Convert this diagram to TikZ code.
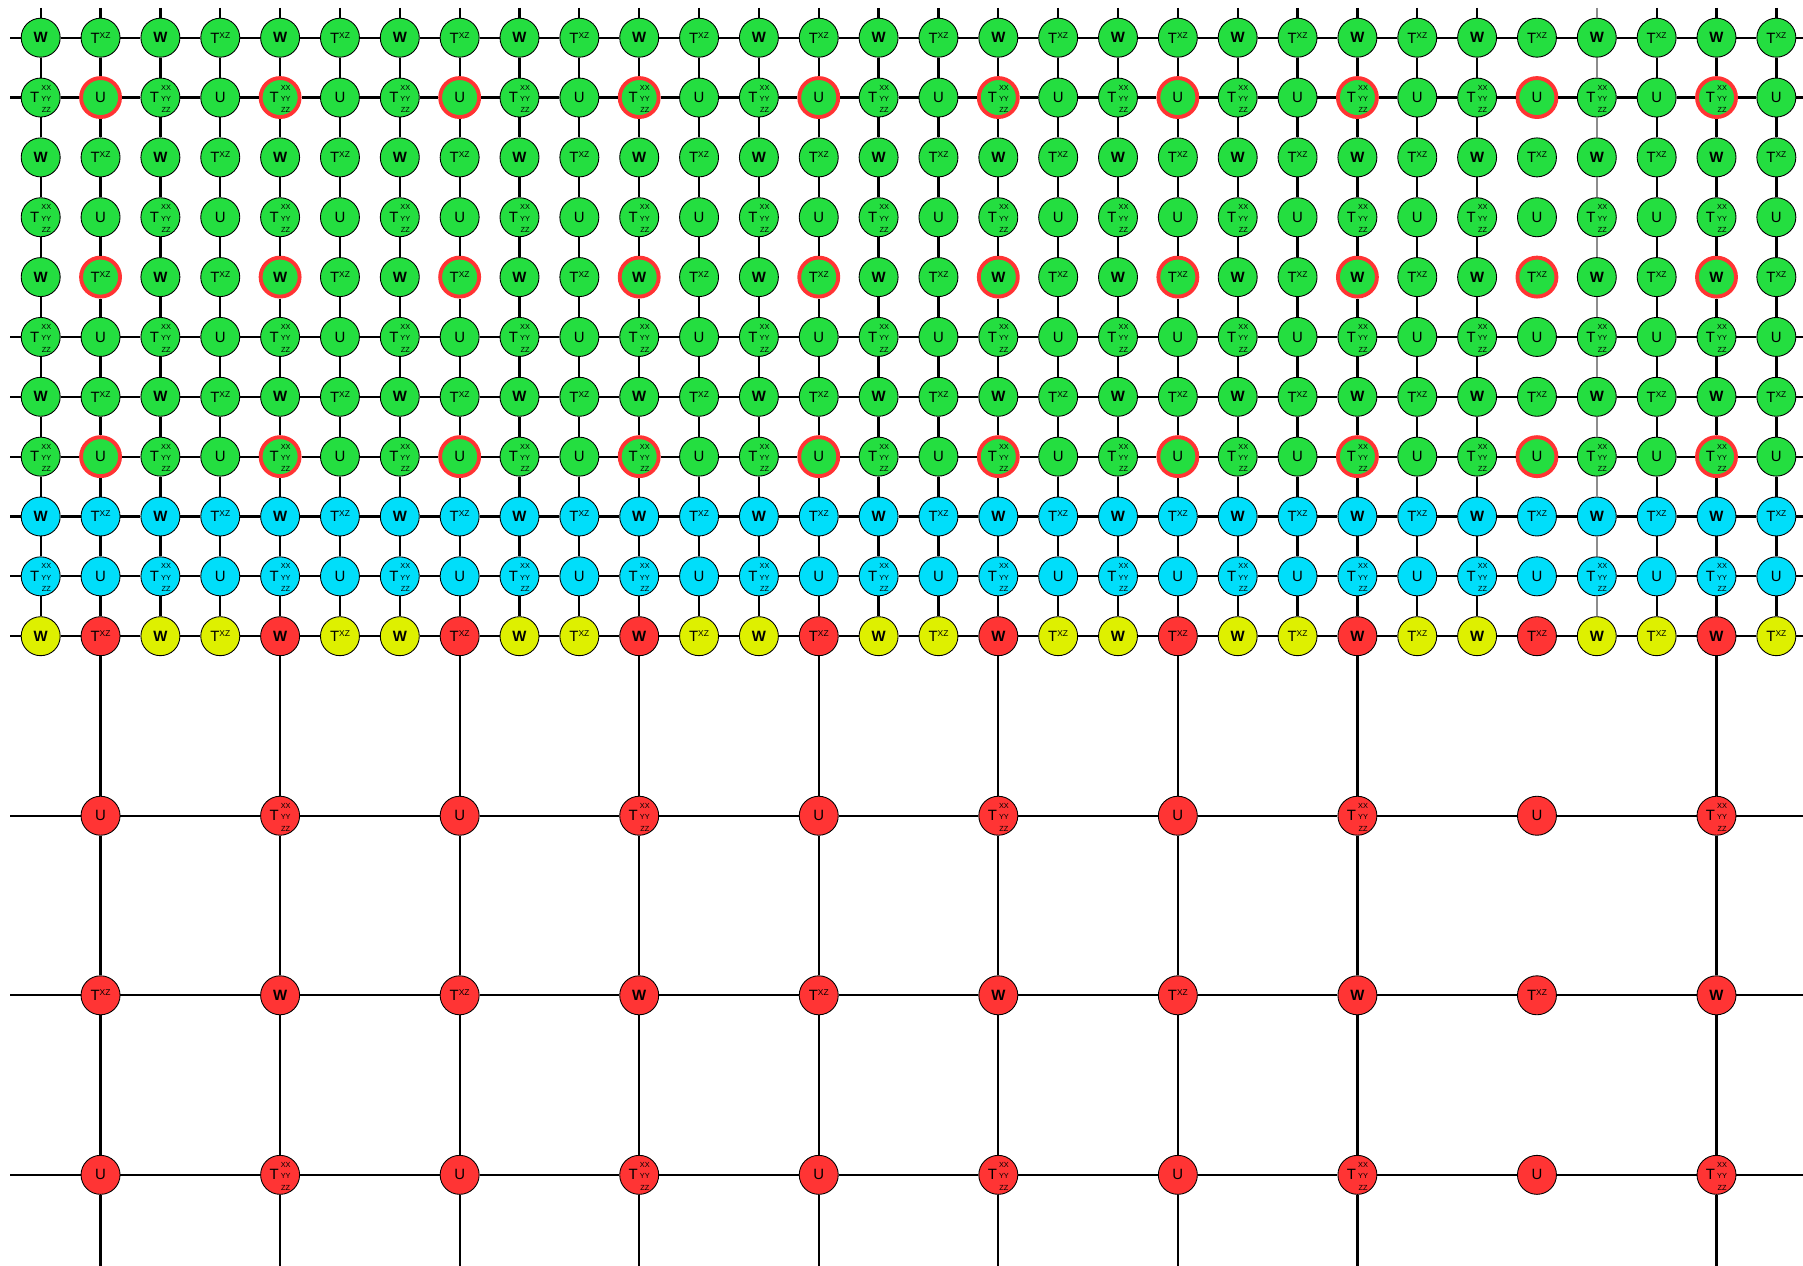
\documentclass[tikz,border=0pt]{standalone}
\usepackage{fontspec}
\setmainfont{Liberation Sans}
\usepackage{xcolor}
\usepackage{tikz}
\usetikzlibrary{positioning}

\definecolor{sitegreen}{RGB}{36,222,64}
\definecolor{sitecyan}{RGB}{0,222,250}
\definecolor{siteyellow}{RGB}{222,240,0}
\definecolor{sitered}{RGB}{255,52,52}

\newcommand{\Wlab}{\textbf{W}}
\newcommand{\Ulab}{U}
\newcommand{\Txz}{T\raisebox{2.9pt}{\fontsize{4.8}{5}\selectfont XZ}}
\newcommand{\Tyy}{T\hspace{1.2pt}\smash{$\vcenter{\hbox{\fontsize{4.2}{6.5}\selectfont\begin{tabular}{@{}c@{}}XX\\YY\\ZZ\end{tabular}}}$}}
\newcommand{\sitelab}[1]{\ifcase#1 \Wlab\or\Txz\or\Tyy\or\Ulab\fi}

\begin{document}
\begin{tikzpicture}[x=0.02cm, y=-0.02cm, font=\fontsize{8.5}{10}\selectfont,
    site/.style={circle, draw=black, line width=0.5pt, fill=#1, minimum size=0.78cm, inner sep=0pt},
    ring/.style={draw=sitered, line width=2.2pt},
    coarse/.code={\ifnum#1=1 \tikzset{ring}\fi},
    bond/.style={line width=1.3pt, draw=#1}, bond/.default=black]
  \useasboundingbox (0,0) rectangle (1803,1266);

  % fine lattice, rows 0-10 and columns 0-29
  \foreach \r in {0,...,10}{
    \foreach \c in {0,...,29}{
      \pgfmathtruncatemacro\kind{2*mod(\r,2)+mod(\c,2)}
      \pgfmathtruncatemacro\iscoarse{(mod(\c,3)==1) && (mod(\r,3)==1)}
      \ifnum\r<8 \def\fillc{sitegreen}\else\def\fillc{sitecyan}\fi
      \ifnum\r=10
        \ifnum\iscoarse=1 \def\fillc{sitered}\else\def\fillc{siteyellow}\fi
        \def\iscoarse{0}
      \fi
      \node[site=\fillc, coarse=\iscoarse] (n-\r-\c) at ({40.7+59.85*\c},{37.7+59.85*\r}) {\sitelab{\kind}};
    }
  }

  % coarse lattice, every third site
  \foreach \r in {13,16,19}{
    \foreach \k in {0,...,9}{
      \pgfmathtruncatemacro\kind{2*mod(\r,2)+mod(1+3*\k,2)}
      \node[site=sitered] (b-\r-\k) at ({40.7+59.85*(1+3*\k)},{37.7+59.85*\r}) {\sitelab{\kind}};
    }
  }

  % vertical bonds of the fine lattice (column 25 has none)
  \foreach \c in {0,...,24,26,27,28,29}{
    \ifnum\c=26 \def\bc{black!45}\else\def\bc{black}\fi
    \coordinate (top-\c) at ({40.7+59.85*\c},8);
    \draw[bond=\bc] (top-\c) -- (n-0-\c);
    \foreach \r [count=\rn from 1] in {0,...,9}
      \draw[bond=\bc] (n-\r-\c) -- (n-\rn-\c);
  }

  % horizontal bonds, rows 2-4 have none
  \foreach \r in {0,1,5,6,7,8,9,10}{
    \coordinate (left-\r) at (10,{37.7+59.85*\r});
    \coordinate (right-\r) at (1803,{37.7+59.85*\r});
    \draw[bond] (left-\r) -- (n-\r-0);
    \foreach \c [count=\cn from 1] in {0,...,28}
      \draw[bond] (n-\r-\c) -- (n-\r-\cn);
    \draw[bond] (n-\r-29) -- (right-\r);
  }

  % coarse bonds
  \foreach \r in {13,16,19}{
    \coordinate (left-\r) at (10,{37.7+59.85*\r});
    \coordinate (right-\r) at (1803,{37.7+59.85*\r});
    \draw[bond] (left-\r) -- (b-\r-0);
    \foreach \k [count=\kn from 1] in {0,...,8}
      \draw[bond] (b-\r-\k) -- (b-\r-\kn);
    \draw[bond] (b-\r-9) -- (right-\r);
  }
  \foreach \k in {0,...,7,9}{
    \pgfmathtruncatemacro\c{1+3*\k}
    \coordinate (bot-\k) at ({40.7+59.85*\c},1266);
    \draw[bond] (n-10-\c) -- (b-13-\k) -- (b-16-\k) -- (b-19-\k) -- (bot-\k);
  }
\end{tikzpicture}
\end{document}
